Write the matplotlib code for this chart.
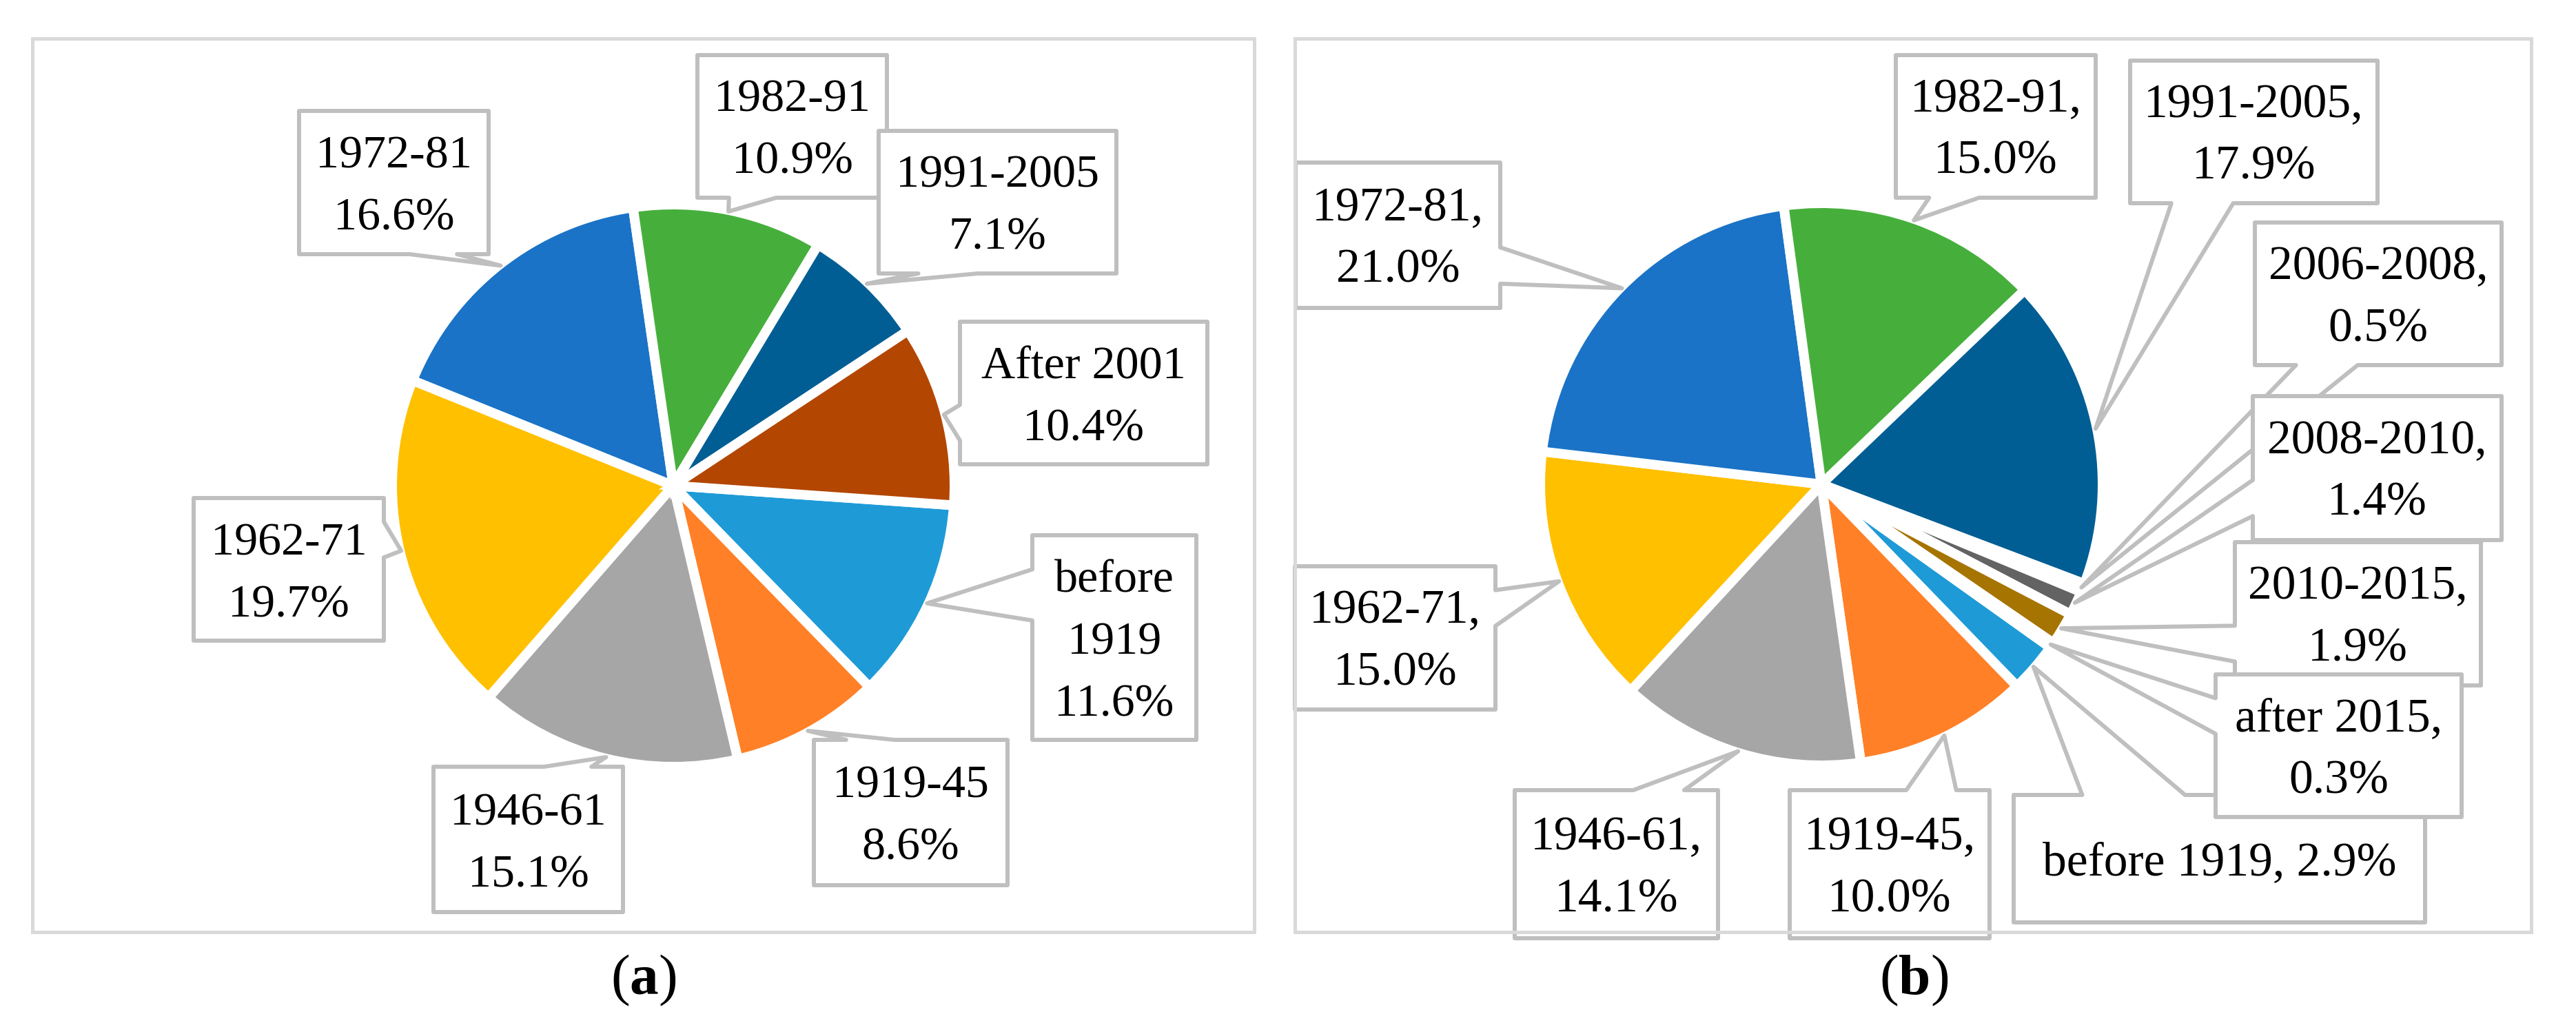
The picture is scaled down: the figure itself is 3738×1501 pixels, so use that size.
# two pie charts with Excel style callout labels: (a) and (b)

import numpy as np
import matplotlib.pyplot as plt
from matplotlib.patches import Polygon, Rectangle

plt.rcParams['font.family'] = ['Liberation Serif', 'DejaVu Serif']
plt.rcParams['mathtext.fontset'] = 'custom'
plt.rcParams['mathtext.rm'] = 'Liberation Serif'
plt.rcParams['mathtext.bf'] = 'Liberation Serif:bold'

# ---- data ----
a_labels = ['before\n1919', '1919-45', '1946-61', '1962-71', '1972-81',
            '1982-91', '1991-2005', 'After 2001']
a_values = [11.6, 8.6, 15.1, 19.7, 16.6, 10.9, 7.1, 10.4]

b_labels = ['before 1919,', '1919-45,', '1946-61,', '1962-71,', '1972-81,',
            '1982-91,', '1991-2005,', '2006-2008,', '2008-2010,', '2010-2015,',
            'after 2015,']
b_values = [2.9, 10.0, 14.1, 15.0, 21.0, 15.0, 17.9, 0.5, 1.4, 1.9, 0.3]

palette = ['#1e9bd7', '#ff8027', '#a6a6a6', '#ffc000', '#1a73c6', '#46af3c',
           '#005e94', '#b34600', '#636363', '#a67400', '#10457a']

# ---- layout (pixels, y from top) ----
W, H = 3738, 1501
PX = 0.72  # points per pixel at dpi 100
R = 408
TIP_R = 406

a_center = (977, 705)
b_center = (2643, 703)
a_start = 90 - 94
b_start = 90 - 125.5

a_boxes = [(1498, 777, 1736, 1074), (1181, 1074, 1462, 1285),
           (629, 1113, 904, 1324), (281, 723, 557, 930),
           (434, 161, 709, 369), (1012, 80, 1287, 287),
           (1275, 190, 1620, 397), (1393, 467, 1752, 674)]
b_boxes = [(2922, 1154, 3519, 1339), (2597, 1147, 2887, 1362),
           (2198, 1147, 2493, 1362), (1879, 822, 2170, 1030),
           (1880, 236, 2177, 447), (2751, 80, 3041, 287),
           (3091, 88, 3450, 295), (3272, 323, 3630, 530),
           (3269, 575, 3630, 784), (3243, 787, 3600, 995),
           (3215, 979, 3572, 1186)]

a_frame = (47, 56, 1819.5, 1352.5)
b_frame = (1878.5, 56, 3673, 1352.5)


def callout(x0, y0, x1, y1, tx, ty):
    # outline of a wedgeRectCallout shape (image coords)
    w = x1 - x0
    h = y1 - y0
    dx = tx - (x0 + x1) / 2
    dy = ty - (y0 + y1) / 2
    dz = abs(dy) - abs(dx * h / w)
    xg1, xg2 = (7, 10) if dx > 0 else (2, 5)
    yg1, yg2 = (7, 10) if dy > 0 else (2, 5)
    xa, xb = x0 + w * xg1 / 12, x0 + w * xg2 / 12
    ya, yb = y0 + h * yg1 / 12, y0 + h * yg2 / 12
    pts = [(x0, y0)]
    if dz > 0 and dy < 0:
        pts += [(xa, y0), (tx, ty), (xb, y0)]
    pts += [(x1, y0)]
    if dz <= 0 and dx > 0:
        pts += [(x1, ya), (tx, ty), (x1, yb)]
    pts += [(x1, y1)]
    if dz > 0 and dy > 0:
        pts += [(xb, y1), (tx, ty), (xa, y1)]
    pts += [(x0, y1)]
    if dz <= 0 and dx < 0:
        pts += [(x0, yb), (tx, ty), (x0, ya)]
    return pts


def draw_panel(ax, labels, values, center, start, boxes, frame, fs, comma):
    cx, cy = center
    fx0, fy0, fx1, fy1 = frame
    clip = Rectangle((fx0, H - fy1), fx1 - fx0, fy1 - fy0,
                     transform=ax.transData, facecolor='none', edgecolor='none')
    wedges, _ = ax.pie(values, colors=palette[:len(values)], center=(cx, H - cy),
                       radius=R, startangle=start, counterclock=False, frame=True,
                       wedgeprops=dict(edgecolor='white', linewidth=14 * PX))
    for i, wd in enumerate(wedges):
        mid = np.deg2rad((wd.theta1 + wd.theta2) / 2)
        tx = cx + TIP_R * np.cos(mid)
        ty = cy - TIP_R * np.sin(mid)
        pts = callout(*boxes[i], tx, ty)
        poly = Polygon([(x, H - y) for x, y in pts], closed=True,
                       facecolor='white', edgecolor='#bfbfbf',
                       linewidth=6 * PX, joinstyle='round', zorder=3 + i * 0.01)
        poly.set_clip_path(clip)
        ax.add_patch(poly)

        pct = '%.1f%%' % values[i]
        if comma and labels[i].startswith('before'):
            lines = [labels[i] + ' ' + pct]
        else:
            lines = labels[i].split('\n') + [pct]
        x0, y0, x1, y1 = boxes[i]
        bx = (x0 + x1) / 2
        by = (y0 + y1) / 2
        step = 90
        first = by - (len(lines) - 1) * step / 2 + 23.5
        for k, s in enumerate(lines):
            t = ax.text(bx, H - (first + k * step), s, ha='center', va='baseline',
                        fontsize=fs, color='black', zorder=3 + i * 0.01 + 0.005)
            t.set_clip_path(clip)

    ax.add_patch(Rectangle((fx0, H - fy1), fx1 - fx0, fy1 - fy0, fill=False,
                           edgecolor='#d9d9d9', linewidth=5 * PX, zorder=5))


def main():
    fig = plt.figure(figsize=(W / 100, H / 100), dpi=100)
    ax = fig.add_axes([0, 0, 1, 1])

    draw_panel(ax, a_labels, a_values, a_center, a_start, a_boxes, a_frame, 49, False)
    draw_panel(ax, b_labels, b_values, b_center, b_start, b_boxes, b_frame, 50, True)

    ax.text(934, H - 1443, r'($\mathbf{a}$)', ha='center', va='baseline', fontsize=60)
    ax.text(2777, H - 1443, r'($\mathbf{b}$)', ha='center', va='baseline', fontsize=60)

    ax.set_xlim(0, W)
    ax.set_ylim(0, H)
    ax.set_aspect('equal')
    ax.axis('off')
    fig.savefig('out.png', dpi=100, facecolor='white')


if __name__ == '__main__':
    main()
